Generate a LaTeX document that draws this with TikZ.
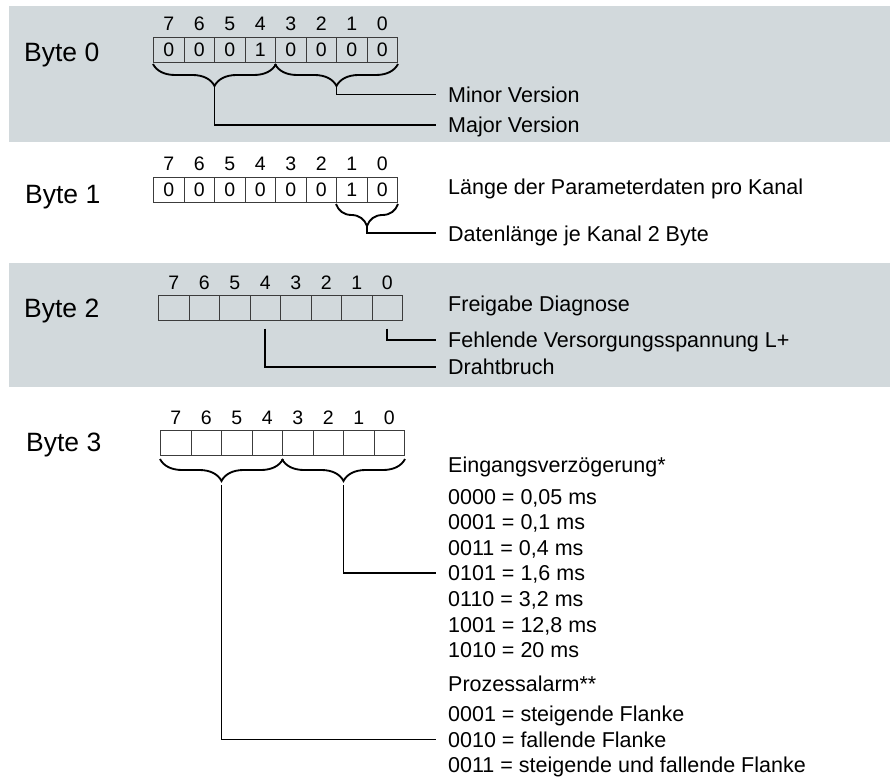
\documentclass[tikz,border=0pt]{standalone}
\usepackage{fontspec}
\setmainfont{Liberation Sans}
\usetikzlibrary{positioning,calc,decorations.pathreplacing}

\definecolor{bandgray}{RGB}{210,217,220}
\definecolor{cellgray}{RGB}{60,60,60}

\begin{document}
\begin{tikzpicture}[x=1pt, y=-1pt,
    band/.style = {fill=bandgray},
    cell/.style = {draw=cellgray, line width = 0.35mm, minimum width=30.5pt, minimum height=25pt, inner sep=0pt, anchor=north west, text height=13.8pt, text depth=0pt, font=\fontsize{19.5}{19.5}\selectfont},
    bitnr/.style = {inner sep=0pt, text height=14pt, text depth=0pt, font=\fontsize{19.5}{19.5}\selectfont},
    bytename/.style = {anchor=west, inner sep=0pt, text height=19pt, text depth=0pt, font=\fontsize{26.5}{26.5}\selectfont},
    info/.style = {anchor=west, inner xsep=12pt, inner ysep=0pt, text height=15.4pt, text depth=0pt, font=\fontsize{21.5}{21.5}\selectfont},
    wire/.style = {line width = 0.6mm},
    bracket/.style = {line width = 0.65mm, decorate, decoration={brace, amplitude=22pt}}]

                        \useasboundingbox (0,0) rectangle (890,776);
                        \fill[band] (9,6) rectangle (890,142);
                        \fill[band] (9,263) rectangle (890,387);

                        \node[bytename] (byte0) at (24,52) {Byte 0};
                        \foreach \b/\v [count=\i from 0] in {7/0,6/0,5/0,4/1,3/0,2/0,1/0,0/0} {
                            \node[cell] (b0c\b) at ({153+30.5*\i},37) {\v};
                            \node[bitnr, above=6pt of b0c\b] (b0n\b) {\b};
                        }
                        \node[info] (minor) at (436,94.5) {Minor Version};
                        \node[info] (major) at (436,125) {Major Version};
                        \draw[bracket] ([yshift=-1pt]b0c0.south east) -- ([yshift=-1pt]b0c3.south west);
                        \draw[bracket] ([yshift=-1pt]b0c4.south east) -- ([yshift=-1pt]b0c7.south west);
                        \draw[wire] ($(b0c3.south west)!0.5!(b0c0.south east)+(0,22)$) |- (minor.west);
                        \draw[wire] ($(b0c7.south west)!0.5!(b0c4.south east)+(0,22)$) |- (major.west);

                        \node[bytename] (byte1) at (25,193.5) {Byte 1};
                        \foreach \b/\v [count=\i from 0] in {7/0,6/0,5/0,4/0,3/0,2/0,1/1,0/0} {
                            \node[cell] (b1c\b) at ({153+30.5*\i},177) {\v};
                            \node[bitnr, above=6pt of b1c\b] (b1n\b) {\b};
                        }
                        \node[info] (laenge) at (436,187.2) {Länge der Parameterdaten pro Kanal};
                        \node[info] (datlen) at (436,233.3) {Datenlänge je Kanal 2 Byte};
                        \draw[bracket] ([yshift=-1pt]b1c0.south east) -- ([yshift=-1pt]b1c1.south west);
                        \draw[wire] ($(b1c1.south west)!0.5!(b1c0.south east)+(0,23)$) |- (datlen.west);

                        \node[bytename] (byte2) at (24,308) {Byte 2};
                        \foreach \b [count=\i from 0] in {7,6,5,4,3,2,1,0} {
                            \node[cell] (b2c\b) at ({158+30.5*\i},294.5) {};
                            \node[bitnr, above=5pt of b2c\b] (b2n\b) {\b};
                        }
                        \node[info] (freigabe) at (436,303.7) {Freigabe Diagnose};
                        \node[info] (versorg) at (436,339.7) {Fehlende Versorgungsspannung L+};
                        \node[info] (draht) at (436,367.2) {Drahtbruch};
                        \draw[wire] ([yshift=-8pt]b2c0.south) |- (versorg.west);
                        \draw[wire] ([yshift=-8pt]b2c4.south) |- (draht.west);

                        \node[bytename] (byte3) at (26,441.5) {Byte 3};
                        \foreach \b [count=\i from 0] in {7,6,5,4,3,2,1,0} {
                            \node[cell] (b3c\b) at ({160+30.5*\i},430) {};
                            \node[bitnr, above=5.5pt of b3c\b] (b3n\b) {\b};
                        }
                        \draw[bracket] ([yshift=-3pt]b3c0.south east) -- ([yshift=-3pt]b3c3.south west);
                        \draw[bracket] ([yshift=-3pt]b3c4.south east) -- ([yshift=-3pt]b3c7.south west);

                        \node[info] (verz) at (436,465) {Eingangsverzögerung*};
                        \foreach \t [count=\k from 0] in {{0000 = 0,05 ms},{0001 = 0,1 ms},{0011 = 0,4 ms},{0101 = 1,6 ms},{0110 = 3,2 ms},{1001 = 12,8 ms},{1010 = 20 ms}} {
                            \node[info] (vz\k) at (436,{496.3+25.6*\k}) {\t};
                        }
                        \node[info] (alarm) at (436,683.3) {Prozessalarm**};
                        \foreach \t [count=\k from 0] in {{0001 = steigende Flanke},{0010 = fallende Flanke},{0011 = steigende und fallende Flanke}} {
                            \node[info] (pa\k) at (436,{714+25.6*\k}) {\t};
                        }
                        \draw[wire] ($(b3c3.south west)!0.5!(b3c0.south east)+(0,29)$) |- (vz3.west);
                        \draw[wire] ($(b3c7.south west)!0.5!(b3c4.south east)+(0,29)$) |- (pa1.west);
                    \end{tikzpicture}
\end{document}
